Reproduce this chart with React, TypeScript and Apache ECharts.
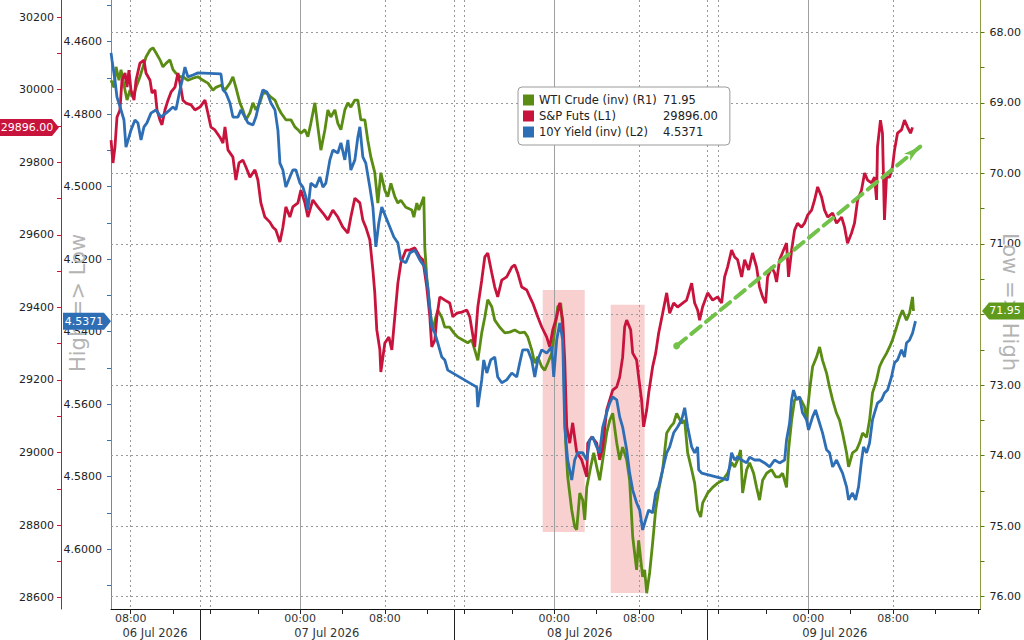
import React, { useEffect, useRef } from "react";
import * as echarts from "echarts";

// ---------- DATA (time = hours since 06 Jul 2026 00:00) ----------
const wtiCrude: [number, number][] = [
  [6.14,68.68],[6.42,68.78],[6.61,68.49],[6.89,68.68],[7.08,68.53],[7.46,68.82],[7.65,68.96],[7.93,68.82],[8.21,68.92],[8.50,68.78],
  [8.87,68.63],[9.16,68.49],[9.44,68.35],[9.82,68.25],[10.10,68.22],[10.38,68.29],[10.76,68.39],[11.04,68.49],[11.33,68.44],[11.70,68.39],
  [11.99,68.53],[12.27,68.58],[12.65,68.63],[12.93,68.63],[13.40,68.68],[13.88,68.65],[14.35,68.63],[14.82,68.68],[15.29,68.72],[15.76,68.82],
  [16.05,68.78],[16.52,68.75],[16.90,68.82],[17.37,68.72],[17.65,68.63],[17.93,68.78],[18.31,69.00],[18.59,69.10],[18.88,69.24],[19.26,69.14],
  [19.54,69.00],[19.82,69.10],[20.20,69.00],[20.48,68.86],[20.86,68.86],[21.24,68.92],[21.62,68.96],[21.90,69.06],[22.18,69.14],[22.65,69.24],
  [23.13,69.24],[23.50,69.34],[23.79,69.38],[24.07,69.43],[24.45,69.38],[24.73,69.48],[25.01,69.29],[25.39,69.00],[25.67,69.34],[25.96,69.67],
  [26.34,69.38],[26.62,69.10],[26.90,69.20],[27.28,69.10],[27.56,69.29],[27.85,69.38],[28.22,69.10],[28.51,69.00],[28.79,69.06],[29.17,68.96],
  [29.45,68.96],[29.73,69.24],[30.11,69.24],[30.39,69.53],[30.68,69.77],[31.05,69.99],[31.34,70.42],[31.62,69.99],[32.00,70.24],[32.28,70.33],
  [32.57,70.14],[32.94,70.33],[33.23,70.42],[33.51,70.38],[33.98,70.48],[34.55,70.52],[34.74,70.62],[35.02,70.42],[35.21,70.52],[35.49,70.41],
  [35.68,70.33],[35.77,71.04],[35.96,71.47],[36.25,71.94],[36.53,72.22],[36.81,72.04],[37.00,71.94],[37.38,72.04],[37.66,72.18],[38.13,72.18],
  [38.51,72.26],[38.89,72.32],[39.36,72.36],[39.83,72.40],[40.21,72.36],[40.49,72.50],[40.78,72.65],[41.15,72.26],[41.44,72.04],[41.72,71.79],
  [42.10,71.89],[42.38,72.08],[42.85,72.18],[43.33,72.26],[43.80,72.25],[44.27,72.22],[44.74,72.26],[45.21,72.25],[45.50,72.32],[45.87,72.50],
  [46.16,72.69],[46.44,72.60],[46.82,72.74],[47.10,72.79],[47.38,72.69],[47.76,72.55],[48.05,72.22],[48.33,71.89],[48.61,71.84],[48.80,72.18],
  [49.08,73.82],[49.27,74.30],[49.65,74.77],[49.93,75.01],[50.12,75.05],[50.41,74.53],[50.69,74.63],[50.88,74.91],[51.07,74.45],[51.44,74.16],
  [51.73,73.96],[52.01,74.16],[52.29,74.35],[52.58,74.06],[52.95,73.68],[53.24,73.50],[53.52,73.40],[53.90,73.82],[54.18,74.06],[54.46,73.88],
  [54.84,74.06],[55.12,74.35],[55.41,75.15],[55.78,75.62],[55.97,75.20],[56.35,75.72],[56.54,75.62],[56.73,75.95],[57.01,75.66],[57.29,75.24],
  [57.58,74.77],[57.86,74.49],[58.24,74.20],[58.62,73.68],[58.99,73.59],[59.28,73.54],[59.56,73.40],[60.03,73.54],[60.32,73.50],[60.60,73.96],
  [60.98,74.20],[61.26,74.39],[61.54,74.77],[61.83,74.87],[62.02,74.67],[62.49,74.53],[62.96,74.45],[63.43,74.39],[63.90,74.35],[64.37,74.25],
  [64.75,74.10],[65.04,74.16],[65.32,74.06],[65.60,73.92],[65.79,74.53],[66.17,74.20],[66.45,74.10],[66.83,74.25],[67.11,74.45],[67.39,74.63],
  [67.68,74.35],[68.06,74.25],[68.53,74.20],[68.91,74.30],[69.28,74.30],[69.57,74.25],[69.94,74.45],[70.13,73.92],[70.42,73.50],[70.70,73.21],
  [71.17,73.17],[71.64,73.31],[71.83,73.50],[72.12,73.07],[72.40,72.74],[72.78,72.60],[73.06,72.46],[73.34,72.65],[73.72,72.83],[74.00,73.03],
  [74.29,73.21],[74.66,73.40],[74.95,73.50],[75.23,73.68],[75.61,73.96],[75.80,74.16],[76.17,73.96],[76.55,73.92],[76.84,73.82],[77.12,73.68],
  [77.50,73.74],[77.78,73.50],[78.06,73.11],[78.44,72.93],[78.72,72.74],[79.00,72.65],[79.38,72.55],[79.67,72.46],[79.95,72.36],[80.33,72.18],
  [80.61,72.04],[80.89,71.94],[81.27,72.08],[81.56,71.98],[81.84,71.75],[81.93,71.95],
];

const spFuts: [number, number][] = [
  [6.14,29861],[6.32,29798],[6.51,29842],[6.70,29924],[6.98,29944],[7.17,30026],[7.46,30046],[7.65,30007],[7.83,30054],[8.02,29999],
  [8.31,29971],[8.50,30026],[8.87,30073],[9.25,30081],[9.44,30046],[9.82,30026],[10.01,29991],[10.29,29999],[10.48,29944],[10.76,29916],
  [10.95,29903],[11.23,29944],[11.52,29971],[11.80,29993],[12.18,30007],[12.46,30046],[12.74,30004],[12.93,29971],[13.21,29963],[13.69,29958],
  [14.06,29944],[14.54,29952],[15.01,29971],[15.29,29935],[15.57,29897],[15.95,29889],[16.42,29869],[16.71,29853],[16.90,29897],[17.18,29834],
  [17.65,29814],[17.93,29751],[18.22,29798],[18.59,29806],[18.88,29787],[19.26,29759],[19.73,29779],[20.01,29751],[20.29,29688],[20.67,29649],
  [21.14,29635],[21.43,29621],[21.71,29613],[22.09,29580],[22.37,29621],[22.65,29677],[23.03,29649],[23.31,29677],[23.79,29688],[24.07,29723],
  [24.45,29688],[24.73,29649],[25.20,29696],[25.67,29677],[26.15,29660],[26.62,29641],[27.09,29668],[27.56,29649],[28.03,29621],[28.51,29605],
  [28.79,29649],[29.17,29701],[29.64,29688],[29.92,29641],[30.20,29621],[30.58,29586],[30.87,29503],[31.05,29440],[31.24,29338],[31.53,29283],
  [31.62,29222],[32.00,29302],[32.38,29318],[32.66,29283],[32.94,29374],[33.23,29467],[33.51,29522],[33.98,29558],[34.36,29558],[34.83,29564],
  [35.30,29539],[35.59,29531],[35.96,29456],[36.25,29374],[36.43,29291],[36.72,29310],[36.91,29374],[37.19,29429],[37.66,29420],[38.13,29412],
  [38.42,29374],[38.79,29384],[39.27,29387],[39.74,29393],[40.02,29374],[40.49,29291],[40.78,29401],[41.15,29475],[41.44,29539],[41.72,29550],
  [42.10,29495],[42.38,29456],[42.66,29429],[43.04,29475],[43.51,29484],[43.99,29511],[44.27,29517],[44.55,29495],[44.93,29456],[45.40,29448],
  [45.69,29429],[45.97,29412],[46.44,29374],[46.82,29346],[47.29,29318],[47.57,29291],[47.86,29338],[48.23,29374],[48.52,29412],[48.80,29365],
  [48.99,29255],[49.18,29071],[49.46,29026],[49.74,29082],[50.12,29001],[50.59,28980],[51.07,28933],[51.16,29026],[51.54,29043],[52.01,29026],
  [52.29,28980],[52.58,29015],[52.95,29117],[53.24,29145],[53.52,29172],[53.90,29181],[54.18,29208],[54.46,29263],[54.65,29346],[54.84,29365],
  [55.22,29338],[55.41,29274],[55.78,29255],[55.97,29208],[56.25,29145],[56.44,29071],[56.73,29117],[56.92,29164],[57.29,29236],[57.58,29274],
  [57.86,29329],[58.24,29384],[58.62,29440],[58.90,29384],[59.28,29412],[59.65,29401],[60.13,29412],[60.50,29420],[60.98,29467],[61.26,29412],
  [61.54,29393],[61.73,29365],[62.01,29401],[62.49,29440],[62.96,29420],[63.43,29429],[63.81,29412],[64.09,29484],[64.37,29511],[64.75,29558],
  [65.04,29539],[65.32,29531],[65.70,29484],[65.98,29531],[66.36,29503],[66.73,29550],[67.11,29511],[67.39,29456],[67.68,29429],[67.96,29412],
  [68.15,29484],[68.53,29511],[68.81,29495],[69.00,29470],[69.28,29531],[69.66,29558],[69.94,29577],[70.13,29484],[70.42,29558],[70.70,29613],
  [70.98,29632],[71.36,29621],[71.64,29632],[71.93,29654],[72.31,29668],[72.59,29696],[72.88,29732],[73.25,29704],[73.53,29668],[73.82,29649],
  [74.29,29660],[74.66,29632],[75.14,29649],[75.42,29621],[75.70,29577],[76.08,29605],[76.36,29632],[76.65,29696],[77.02,29723],[77.31,29770],
  [77.59,29751],[77.97,29743],[78.25,29759],[78.44,29696],[78.53,29842],[78.81,29916],[79.00,29880],[79.19,29641],[79.38,29759],[79.67,29759],
  [79.95,29787],[80.14,29834],[80.42,29880],[80.80,29889],[81.08,29916],[81.37,29897],[81.65,29880],[81.84,29896],
];

const yield10y: [number, number][] = [
  [6.14,4.4631],[6.23,4.4651],[6.51,4.4706],[6.70,4.4753],[7.08,4.4788],[7.36,4.4816],[7.55,4.4891],[7.83,4.4863],[8.02,4.4844],[8.40,4.4816],
  [8.68,4.4824],[8.97,4.4871],[9.25,4.4835],[9.53,4.4824],[9.91,4.4797],[10.38,4.4788],[10.85,4.4808],[11.33,4.4797],[11.70,4.4788],[11.99,4.4780],
  [12.27,4.4788],[12.65,4.4733],[12.93,4.4697],[13.12,4.4670],[13.40,4.4697],[13.88,4.4692],[14.35,4.4686],[16.52,4.4689],[16.71,4.4733],[17.00,4.4742],
  [17.37,4.4769],[17.65,4.4808],[18.12,4.4808],[18.41,4.4788],[18.78,4.4808],[19.07,4.4824],[19.54,4.4830],[19.82,4.4808],[20.20,4.4761],[20.48,4.4733],
  [20.86,4.4739],[21.24,4.4769],[21.62,4.4788],[21.90,4.4844],[22.09,4.4935],[22.37,4.4954],[22.65,4.5001],[23.03,4.4973],[23.31,4.4954],[23.60,4.4954],
  [23.98,4.4990],[24.26,4.5001],[24.54,4.5028],[24.73,4.5064],[25.01,4.4990],[25.49,4.5001],[25.86,4.4973],[26.15,4.5001],[26.43,4.4990],[26.81,4.4926],
  [27.09,4.4899],[27.56,4.4907],[27.85,4.4879],[28.22,4.4926],[28.51,4.4871],[28.79,4.4954],[29.17,4.4926],[29.45,4.4863],[29.64,4.4835],[29.92,4.4918],
  [30.20,4.4935],[30.58,4.5001],[30.87,4.5056],[31.15,4.5166],[31.43,4.5100],[31.71,4.5056],[32.09,4.5084],[32.47,4.5111],[32.85,4.5139],[33.23,4.5155],
  [33.51,4.5202],[33.98,4.5210],[34.36,4.5183],[34.83,4.5175],[35.30,4.5202],[35.77,4.5222],[36.06,4.5277],[36.43,4.5387],[36.72,4.5404],[37.00,4.5431],
  [37.38,4.5470],[37.66,4.5478],[37.94,4.5506],[40.68,4.5553],[40.78,4.5608],[41.15,4.5533],[41.34,4.5478],[41.63,4.5514],[42.00,4.5478],[42.38,4.5470],
  [42.66,4.5525],[43.04,4.5541],[43.51,4.5533],[43.99,4.5514],[44.46,4.5525],[44.74,4.5486],[45.02,4.5450],[45.50,4.5450],[45.87,4.5478],[46.16,4.5525],
  [46.44,4.5478],[46.82,4.5450],[47.29,4.5459],[47.76,4.5442],[47.95,4.5525],[48.23,4.5423],[48.52,4.5376],[48.80,4.5423],[48.99,4.5663],[49.27,4.5754],
  [49.65,4.5809],[49.93,4.5754],[50.22,4.5734],[50.69,4.5734],[51.07,4.5754],[51.35,4.5699],[51.63,4.5690],[52.01,4.5718],[52.29,4.5734],[52.58,4.5663],
  [52.95,4.5624],[53.24,4.5597],[53.52,4.5580],[53.90,4.5588],[54.18,4.5635],[54.46,4.5663],[54.84,4.5726],[55.12,4.5790],[55.41,4.5837],[55.78,4.5872],
  [56.07,4.5892],[56.35,4.5947],[56.63,4.5919],[56.92,4.5892],[57.29,4.5900],[57.58,4.5845],[57.86,4.5828],[58.24,4.5781],[58.62,4.5734],[58.90,4.5718],
  [59.28,4.5679],[59.65,4.5663],[60.03,4.5643],[60.32,4.5610],[60.60,4.5663],[60.98,4.5718],[61.26,4.5734],[61.54,4.5718],[61.64,4.5781],[61.92,4.5790],
  [64.37,4.5809],[64.75,4.5734],[65.04,4.5754],[65.32,4.5746],[65.70,4.5754],[66.17,4.5762],[66.45,4.5746],[66.92,4.5754],[67.39,4.5754],[67.87,4.5762],
  [68.34,4.5773],[68.81,4.5754],[69.28,4.5762],[69.76,4.5754],[69.94,4.5699],[70.23,4.5652],[70.42,4.5588],[70.60,4.5561],[70.89,4.5588],[71.17,4.5580],
  [71.45,4.5624],[71.83,4.5643],[72.02,4.5671],[72.40,4.5635],[72.68,4.5616],[72.96,4.5643],[73.34,4.5679],[73.72,4.5726],[74.00,4.5734],[74.29,4.5773],
  [74.66,4.5754],[74.95,4.5773],[75.23,4.5790],[75.61,4.5828],[75.80,4.5864],[76.17,4.5845],[76.46,4.5864],[76.74,4.5828],[77.03,4.5754],[77.21,4.5718],
  [77.50,4.5734],[77.78,4.5707],[78.06,4.5643],[78.25,4.5624],[78.53,4.5597],[78.91,4.5588],[79.19,4.5569],[79.48,4.5561],[79.85,4.5525],[80.14,4.5486],
  [80.42,4.5478],[80.80,4.5450],[81.08,4.5470],[81.27,4.5431],[81.56,4.5423],[81.84,4.5404],[82.12,4.5371],
];

// axis ticks / labels
const spTicks = [28600, 28800, 29000, 29200, 29400, 29600, 29800, 30000, 30200];
const spMinorTicks = [28600, 28700, 28800, 28900, 29000, 29100, 29200, 29300, 29400, 29500, 29600, 29700, 29800, 29900, 30000, 30100, 30200];
const yieldTicks = [4.46, 4.48, 4.5, 4.52, 4.54, 4.56, 4.58, 4.6];
const yieldMinorTicks = [4.45, 4.46, 4.47, 4.48, 4.49, 4.5, 4.51, 4.52, 4.53, 4.54, 4.55, 4.56, 4.57, 4.58, 4.59, 4.6, 4.61];
const wtiTicks = [68, 69, 70, 71, 72, 73, 74, 75, 76];
const wtiMinorTicks = [68, 68.5, 69, 69.5, 70, 70.5, 71, 71.5, 72, 72.5, 73, 73.5, 74, 74.5, 75, 75.5, 76];
const clockLabelHours = [8, 24, 32, 48, 56, 72, 80];
const clockTickHours = [8, 12, 15.48, 20, 24, 28, 32, 36, 39.46, 44, 48, 52, 56, 60, 63.53, 68, 72, 76, 80, 84, 88];
const sessionBreakHours = [14.54, 38.51, 62.49];
const dateLabelHours = [10.29, 26.52, 50.4, 74.5];
const dateLabels = ["06 Jul 2026", "07 Jul 2026", "08 Jul 2026", "09 Jul 2026"];
const midnightHours = [24, 48, 72];
const dottedHours = [8, 14.54, 15.48, 32, 38.51, 39.46, 56, 62.49, 63.53, 80];

// annotations (data coordinates: hours, S&P points)
const stressBands = [
  { from: 46.91, to: 50.88, top: 29448, bottom: 28781 },
  { from: 53.33, to: 56.54, top: 29407, bottom: 28613 },
];
const trendArrow = { from: [59.56, 29294], to: [82.56, 29843] };

const X_MIN = 6.135, X_MAX = 88.26;
const SP_MIN = 28569, SP_MAX = 30247;
const YLD_MIN = 4.4485, YLD_MAX = 4.6165;
const WTI_MIN = 67.542, WTI_MAX = 76.174;

const NAME_WTI = "WTI Crude (inv) (R1)";
const NAME_SP = "S&P Futs (L1)";
const NAME_YLD = "10Y Yield (inv) (L2)";

const RED = "#c8143c";
const GREEN = "#5a8c14";
const BLUE = "#2e6eb4";
const FONT = "DejaVu Sans";
const LINE_W = 2.8;

export default function App() {
  const ref = useRef<HTMLDivElement>(null);

  useEffect(() => {
    if (!ref.current) return;
    const chart = echarts.init(ref.current, undefined, { renderer: "svg" });

    const lastWti = wtiCrude[wtiCrude.length - 1][1];
    const lastSp = spFuts[spFuts.length - 1][1];
    const lastYld = yield10y[yield10y.length - 1][1];
    const lastText: Record<string, string> = {
      [NAME_WTI]: lastWti.toFixed(2),
      [NAME_SP]: lastSp.toFixed(2),
      [NAME_YLD]: lastYld.toFixed(4),
    };

    const option: any = {
      animation: false,
      backgroundColor: "#ffffff",
      textStyle: { fontFamily: FONT },
      grid: { left: 111, right: 43, top: 0, bottom: 31, containLabel: false },
      legend: {
        data: [NAME_WTI, NAME_SP, NAME_YLD],
        orient: "vertical",
        left: 518,
        top: 87,
        icon: "rect",
        itemWidth: 11,
        itemHeight: 11,
        itemGap: 4,
        selectedMode: false,
        backgroundColor: "#ffffff",
        borderColor: "#9a9a9a",
        borderWidth: 1,
        borderRadius: 4,
        padding: [7, 12, 7, 5],
        formatter: (name: string) => `{n|${name}}{v|${lastText[name]}}`,
        textStyle: {
          color: "#222",
          fontSize: 11.5,
          fontFamily: FONT,
          rich: {
            n: { width: 124, fontSize: 11.5, fontFamily: FONT, color: "#222", lineHeight: 13 },
            v: { fontSize: 11.5, fontFamily: FONT, color: "#222", lineHeight: 13 },
          },
        },
      },
      xAxis: [
        {
          type: "value",
          position: "bottom",
          min: X_MIN,
          max: X_MAX,
          axisLine: { show: true, onZero: false, lineStyle: { color: "#111", width: 1 } },
          axisTick: { show: true, customValues: clockTickHours, length: 5, lineStyle: { color: "#222" } },
          axisLabel: {
            show: true,
            customValues: clockLabelHours,
            margin: 4,
            color: "#333",
            fontSize: 11,
            fontFamily: FONT,
            formatter: (v: number) => String(Math.round(v) % 24).padStart(2, "0") + ":00",
          },
          splitLine: { show: false },
        },
        {
          type: "value",
          position: "bottom",
          min: X_MIN,
          max: X_MAX,
          axisLine: { show: false, onZero: false },
          axisTick: { show: true, customValues: sessionBreakHours, length: 31, lineStyle: { color: "#222" } },
          axisLabel: {
            show: true,
            customValues: dateLabelHours,
            margin: 18,
            color: "#333",
            fontSize: 11.5,
            fontFamily: FONT,
            formatter: (v: number) => {
              const i = dateLabelHours.findIndex((h) => Math.abs(h - v) < 0.01);
              return i >= 0 ? dateLabels[i] : "";
            },
          },
          splitLine: { show: false },
        },
      ],
      yAxis: [
        {
          type: "value",
          position: "left",
          offset: 50,
          min: SP_MIN,
          max: SP_MAX,
          axisLine: { show: true, onZero: false, lineStyle: { color: RED, width: 1 } },
          axisTick: { show: true, customValues: spMinorTicks, length: 4, lineStyle: { color: RED } },
          axisLabel: { show: true, customValues: spTicks, margin: 7, color: "#222", fontSize: 11, fontFamily: FONT, formatter: (v: number) => String(Math.round(v)) },
          splitLine: { show: false },
        },
        {
          type: "value",
          position: "left",
          offset: 0,
          inverse: true,
          min: YLD_MIN,
          max: YLD_MAX,
          axisLine: { show: true, onZero: false, lineStyle: { color: "#6f8aa3", width: 1 } },
          axisTick: { show: true, customValues: yieldMinorTicks, length: 4, lineStyle: { color: "#3a6fa8" } },
          axisLabel: { show: true, customValues: yieldTicks, margin: 9, color: "#222", fontSize: 11, fontFamily: FONT, formatter: (v: number) => v.toFixed(4) },
          splitLine: { show: false },
        },
        {
          type: "value",
          position: "right",
          offset: 0,
          inverse: true,
          min: WTI_MIN,
          max: WTI_MAX,
          axisLine: { show: true, onZero: false, lineStyle: { color: "#8c9c40", width: 1 } },
          axisTick: { show: true, customValues: wtiMinorTicks, length: 4, lineStyle: { color: "#5a7a14" } },
          axisLabel: { show: true, customValues: wtiTicks, margin: 9, color: "#222", fontSize: 11, fontFamily: FONT, formatter: (v: number) => v.toFixed(2) },
          splitLine: { show: false },
        },
      ],
      series: [
        {
          name: NAME_WTI,
          type: "line",
          xAxisIndex: 0,
          yAxisIndex: 2,
          data: wtiCrude,
          showSymbol: false,
          symbol: "none",
          color: GREEN,
          lineStyle: { color: GREEN, width: LINE_W },
          z: 2,
          markLine: {
            silent: true,
            z: 1,
            symbol: ["none", "none"],
            label: { show: false },
            lineStyle: { color: "#9a9a9a", type: [2, 3], width: 1 },
            emphasis: { disabled: true },
            data: [
              ...wtiTicks.map((v) => ({ yAxis: v })),
              ...dottedHours.map((h) => ({ xAxis: h })),
              ...midnightHours.map((h) => ({ xAxis: h, lineStyle: { color: "#a0a0a0", type: "solid", width: 1 } })),
            ],
          },
        },
        {
          name: NAME_SP,
          type: "line",
          xAxisIndex: 0,
          yAxisIndex: 0,
          data: spFuts,
          showSymbol: false,
          symbol: "none",
          color: RED,
          lineStyle: { color: RED, width: LINE_W },
          z: 3,
          markArea: {
            silent: true,
            z: 1,
            itemStyle: { color: "rgba(240,150,150,0.45)" },
            emphasis: { disabled: true },
            data: stressBands.map((b) => [
              { coord: [b.from, b.top] },
              { coord: [b.to, b.bottom] },
            ]),
          },
          markLine: {
            silent: true,
            z: 6,
            symbol: ["circle", "arrow"],
            symbolSize: [7, 17],
            label: { show: false },
            emphasis: { disabled: true },
            lineStyle: { color: "#72c24a", width: 4, type: [12, 7], cap: "round" },
            itemStyle: { color: "#72c24a" },
            data: [[{ coord: trendArrow.from }, { coord: trendArrow.to }]],
          },
        },
        {
          name: NAME_YLD,
          type: "line",
          xAxisIndex: 0,
          yAxisIndex: 1,
          data: yield10y,
          showSymbol: false,
          symbol: "none",
          color: BLUE,
          lineStyle: { color: BLUE, width: LINE_W },
          z: 4,
        },
      ],
    };

    chart.setOption(option);

    const ySp = chart.convertToPixel({ yAxisIndex: 0 }, lastSp) as number;
    const yYld = chart.convertToPixel({ yAxisIndex: 1 }, lastYld) as number;
    const yWti = chart.convertToPixel({ yAxisIndex: 2 }, lastWti) as number;
    const h = 8.5;

    chart.setOption({
      graphic: [
        {
          type: "text",
          x: 78,
          y: 303,
          rotation: Math.PI / 2,
          z: 1,
          style: { text: "High => Low", fill: "#b4b4b4", fontSize: 21, fontFamily: FONT, align: "center", verticalAlign: "middle" },
        },
        {
          type: "text",
          x: 1010,
          y: 302,
          rotation: -Math.PI / 2,
          z: 1,
          style: { text: "Low => High", fill: "#b4b4b4", fontSize: 21, fontFamily: FONT, align: "center", verticalAlign: "middle" },
        },
        {
          type: "polygon",
          z: 10,
          shape: { points: [[0, ySp - h], [52, ySp - h], [59, ySp], [52, ySp + h], [0, ySp + h]] },
          style: { fill: RED },
        },
        {
          type: "text",
          z: 11,
          x: 27,
          y: ySp,
          style: { text: lastSp.toFixed(2), fill: "#fff", fontSize: 11, fontFamily: FONT, align: "center", verticalAlign: "middle" },
        },
        {
          type: "polygon",
          z: 10,
          shape: { points: [[63, yYld - h], [104, yYld - h], [111, yYld], [104, yYld + h], [63, yYld + h]] },
          style: { fill: BLUE },
        },
        {
          type: "text",
          z: 11,
          x: 84,
          y: yYld,
          style: { text: lastYld.toFixed(4), fill: "#fff", fontSize: 11, fontFamily: FONT, align: "center", verticalAlign: "middle" },
        },
        {
          type: "polygon",
          z: 10,
          shape: { points: [[982, yWti], [989, yWti - h], [1024, yWti - h], [1024, yWti + h], [989, yWti + h]] },
          style: { fill: "#5f9a1c" },
        },
        {
          type: "text",
          z: 11,
          x: 1005,
          y: yWti,
          style: { text: lastWti.toFixed(2), fill: "#fff", fontSize: 11, fontFamily: FONT, align: "center", verticalAlign: "middle" },
        },
      ],
    });

    return () => chart.dispose();
  }, []);

  return (
    <div
      ref={ref}
      style={{ position: "absolute", left: 0, top: 0, width: 1024, height: 640, background: "#fff" }}
    />
  );
}
